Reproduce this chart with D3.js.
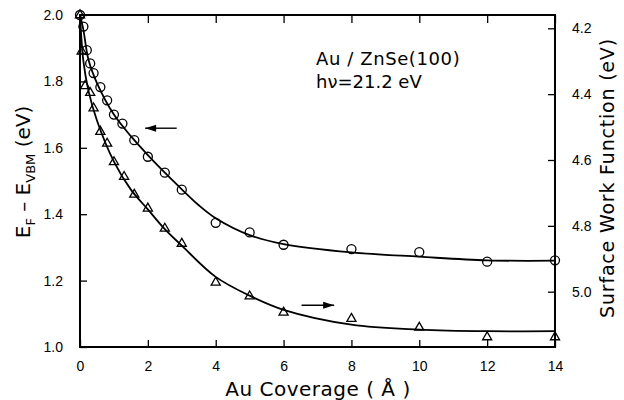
<!DOCTYPE html>
<html>
<head>
<meta charset="utf-8">
<script src="https://cdn.jsdelivr.net/npm/d3@7"></script>
<style>
  body { margin: 0; background: #fff; }
  svg { display: block; font-family: "DejaVu Sans", sans-serif; }
</style>
</head>
<body>
<div id="chart"></div>
<script>
// measured points, E_F - E_VBM (left axis, circles)
var circleX = [0, 0.1, 0.2, 0.3, 0.4, 0.6, 0.8, 1.0, 1.25, 1.6, 2.0, 2.5, 3.0, 4.0, 5.0, 6.0, 8.0, 10.0, 12.0, 14.0];
var circleY = [2.0, 1.965, 1.894, 1.854, 1.825, 1.783, 1.743, 1.70, 1.673, 1.623, 1.573, 1.525, 1.474, 1.374, 1.345, 1.308, 1.295, 1.286, 1.257, 1.261];

// measured points, surface work function (right axis, triangles)
var triX = [0, 0.05, 0.15, 0.3, 0.4, 0.6, 0.8, 1.0, 1.3, 1.6, 2.0, 2.5, 3.0, 4.0, 5.0, 6.0, 8.0, 10.0, 12.0, 14.0];
var triWF = [4.16, 4.27, 4.375, 4.396, 4.443, 4.514, 4.55, 4.606, 4.651, 4.705, 4.747, 4.808, 4.854, 4.972, 5.014, 5.063, 5.082, 5.109, 5.138, 5.138];

// fitted curves
var circleFitX = [0, 0.1, 0.25, 0.5, 1, 1.5, 2, 2.5, 3, 3.5, 4, 5, 6, 8, 10, 12, 14];
var circleFitY = [2.0, 1.955, 1.865, 1.795, 1.70, 1.635, 1.578, 1.525, 1.475, 1.427, 1.388, 1.337, 1.31, 1.285, 1.272, 1.261, 1.26];
var triFitX = [0, 0.1, 0.25, 0.5, 1, 1.5, 2, 2.5, 3, 4, 5, 6, 8, 10, 12, 14];
var triFitWF = [4.16, 4.30, 4.39, 4.48, 4.605, 4.69, 4.75, 4.81, 4.86, 4.955, 5.012, 5.055, 5.10, 5.115, 5.12, 5.12];

var xTicks = [0, 2, 4, 6, 8, 10, 12, 14];
var leftTicks = [1.0, 1.2, 1.4, 1.6, 1.8, 2.0];
var rightTicks = [4.2, 4.4, 4.6, 4.8, 5.0];

var width = 624, height = 400;
var margin = { top: 15, right: 69, bottom: 53, left: 80 };
var x0 = margin.left, x1 = width - margin.right;
var y0 = margin.top, y1 = height - margin.bottom;

var svg = d3.select("#chart").append("svg")
  .attr("width", width)
  .attr("height", height);

var xScale = d3.scaleLinear().domain([0, 14]).range([x0, x1]);
var yLeft = d3.scaleLinear().domain([1.0, 2.0]).range([y1, y0]);
var yRight = d3.scaleLinear().domain([4.2, 5.0]).range([28.3, 291.7]);

// axes, ticks point inward
svg.append("g")
  .attr("transform", "translate(0," + y1 + ")")
  .call(d3.axisBottom(xScale).tickValues(xTicks).tickSizeInner(-7).tickSizeOuter(0).tickPadding(14))
  .call(g => g.selectAll(".tick text").attr("font-size", 14));

svg.append("g")
  .attr("transform", "translate(0," + y0 + ")")
  .call(d3.axisTop(xScale).tickValues(xTicks).tickSizeInner(-8).tickSizeOuter(0).tickFormat(""));

svg.append("g")
  .attr("transform", "translate(" + x0 + ",0)")
  .call(d3.axisLeft(yLeft).tickValues(leftTicks).tickSizeInner(-7).tickSizeOuter(0).tickPadding(17).tickFormat(d3.format(".1f")))
  .call(g => g.selectAll(".tick text").attr("font-size", 14));

svg.append("g")
  .attr("transform", "translate(" + x1 + ",0)")
  .call(d3.axisRight(yRight).tickValues(rightTicks).tickSizeInner(-7).tickSizeOuter(0).tickPadding(17).tickFormat(d3.format(".1f")))
  .call(g => g.selectAll(".tick text").attr("font-size", 14));

svg.selectAll(".domain").attr("stroke", "none");
svg.selectAll(".tick line").attr("stroke", "#000").attr("stroke-width", 1.3);
svg.selectAll(".tick text").attr("fill", "#000");

// frame
svg.append("rect")
  .attr("x", x0).attr("y", y0)
  .attr("width", x1 - x0).attr("height", y1 - y0)
  .attr("fill", "none").attr("stroke", "#000").attr("stroke-width", 2);

// fitted curves
var circleFit = circleFitX.map((d, i) => [d, circleFitY[i]]);
var triFit = triFitX.map((d, i) => [d, triFitWF[i]]);

svg.append("path")
  .datum(circleFit)
  .attr("fill", "none").attr("stroke", "#000").attr("stroke-width", 1.8)
  .attr("d", d3.line().x(d => xScale(d[0])).y(d => yLeft(d[1])).curve(d3.curveCatmullRom.alpha(0.5)));

svg.append("path")
  .datum(triFit)
  .attr("fill", "none").attr("stroke", "#000").attr("stroke-width", 1.8)
  .attr("d", d3.line().x(d => xScale(d[0])).y(d => yRight(d[1])).curve(d3.curveCatmullRom.alpha(0.5)));

// markers
svg.selectAll(".circ")
  .data(circleX.map((d, i) => [d, circleY[i]]))
  .enter().append("circle")
  .attr("class", "circ")
  .attr("cx", d => xScale(d[0]))
  .attr("cy", d => yLeft(d[1]))
  .attr("r", 4.5)
  .attr("fill", "none")
  .attr("stroke", "#000").attr("stroke-width", 1.3);

svg.selectAll(".tri")
  .data(triX.map((d, i) => [d, triWF[i]]))
  .enter().append("path")
  .attr("class", "tri")
  .attr("transform", d => "translate(" + xScale(d[0]) + "," + yRight(d[1]) + ")")
  .attr("d", d3.symbol(d3.symbolTriangle, 36))
  .attr("fill", "none")
  .attr("stroke", "#000").attr("stroke-width", 1.3);

// arrows pointing at each curve's axis
function arrow(xa, xb, yPix) {
  var dir = xb > xa ? 1 : -1;
  var ax = xScale(xa), bx = xScale(xb);
  svg.append("line")
    .attr("x1", ax).attr("x2", bx).attr("y1", yPix).attr("y2", yPix)
    .attr("stroke", "#000").attr("stroke-width", 1.4);
  svg.append("path")
    .attr("d", "M" + bx + "," + yPix + "L" + (bx - dir * 11) + "," + (yPix - 3.5) + "L" + (bx - dir * 11) + "," + (yPix + 3.5) + "Z")
    .attr("fill", "#000");
}
arrow(2.85, 1.92, yLeft(1.659));
arrow(6.53, 7.49, yRight(5.041));

// text
svg.append("text")
  .attr("x", 316).attr("y", 65)
  .attr("font-size", 18).attr("letter-spacing", 0.6)
  .text("Au / ZnSe(100)");

svg.append("text")
  .attr("x", 316).attr("y", 88)
  .attr("font-size", 18)
  .text("h\u03bd=21.2 eV");

svg.append("text")
  .attr("x", (x0 + x1) / 2 + 0.5).attr("y", 396)
  .attr("text-anchor", "middle")
  .attr("font-size", 20).attr("letter-spacing", 0.5)
  .text("Au Coverage ( \u00c5 )");

var leftLabel = svg.append("text")
  .attr("transform", "translate(30,172) rotate(-90)")
  .attr("text-anchor", "middle")
  .attr("font-size", 20);
leftLabel.append("tspan").text("E");
leftLabel.append("tspan").attr("font-size", 13).attr("dy", 5).text("F");
leftLabel.append("tspan").attr("dy", -5).text(" \u2013 E");
leftLabel.append("tspan").attr("font-size", 13).attr("dy", 5).text("VBM");
leftLabel.append("tspan").attr("dy", -5).text(" (eV)");

svg.append("text")
  .attr("transform", "translate(614,178) rotate(-90)")
  .attr("text-anchor", "middle")
  .attr("font-size", 19).attr("letter-spacing", 0.8)
  .text("Surface  Work  Function  (eV)");
</script>
</body>
</html>
